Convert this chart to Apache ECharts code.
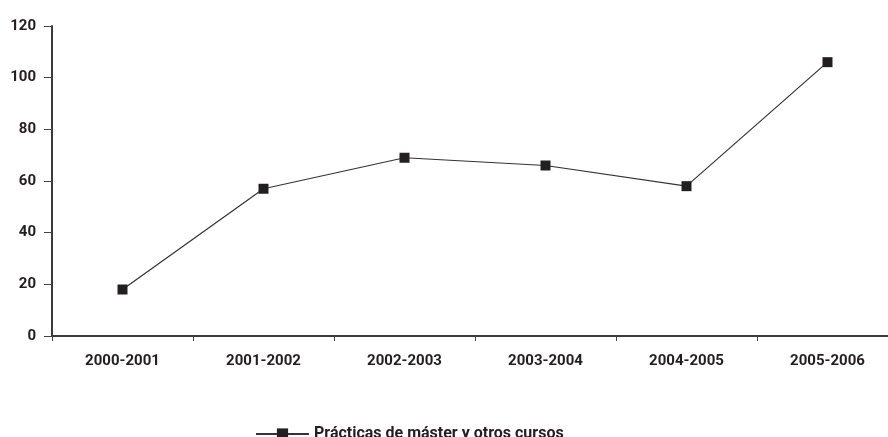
<!DOCTYPE html>
<html>
<head>
<meta charset="utf-8">
<script src="https://cdn.jsdelivr.net/npm/echarts@6/dist/echarts.min.js"></script>
<style>html,body{margin:0;padding:0;background:#fff}#c{width:888px;height:437px}</style>
</head>
<body>
<div id="c"></div>
<script>
const categories = ['2000-2001','2001-2002','2002-2003','2003-2004','2004-2005','2005-2006'];
const seriesName = 'Prácticas de máster y otros cursos';
const values = [18, 57, 69, 66, 58, 106];
const yMin = 0, yMax = 120, yInterval = 20;

const chart = echarts.init(document.getElementById('c'), null, {renderer: 'canvas'});
const font = 'Roboto, "Liberation Sans", sans-serif';
const ink = '#231f20';
chart.setOption({
  animation: false,
  backgroundColor: '#fff',
  textStyle: {fontFamily: font},
  grid: {left: 52, top: 26, width: 846, height: 310, containLabel: false, outerBoundsMode: 'none'},
  legend: {
    show: true,
    left: 250, top: 421,
    itemWidth: 53, itemHeight: 14, itemGap: 10,
    textStyle: {fontFamily: font, fontSize: 16, fontWeight: 'bold', color: ink},
    data: [seriesName]
  },
  xAxis: {
    type: 'category',
    data: categories,
    boundaryGap: true,
    axisLine: {lineStyle: {color: '#3a3a3a', width: 2}},
    axisTick: {show: true, length: 5, inside: false, lineStyle: {color: '#444', width: 1}},
    axisLabel: {margin: 18, fontSize: 15, fontWeight: 'bold', color: ink, fontFamily: font},
    splitLine: {show: false}
  },
  yAxis: {
    type: 'value',
    min: yMin, max: yMax, interval: yInterval,
    axisLine: {show: true, lineStyle: {color: '#3a3a3a', width: 2}},
    axisTick: {show: true, length: 8, lineStyle: {color: '#444', width: 1}},
    axisLabel: {margin: 16, fontSize: 15, fontWeight: 'bold', color: ink, fontFamily: font},
    splitLine: {show: false}
  },
  series: [{
    name: seriesName,
    type: 'line',
    data: values,
    symbol: 'rect',
    symbolSize: 10,
    itemStyle: {color: ink},
    lineStyle: {color: '#333', width: 1.2}
  }]
});
</script>
</body>
</html>
